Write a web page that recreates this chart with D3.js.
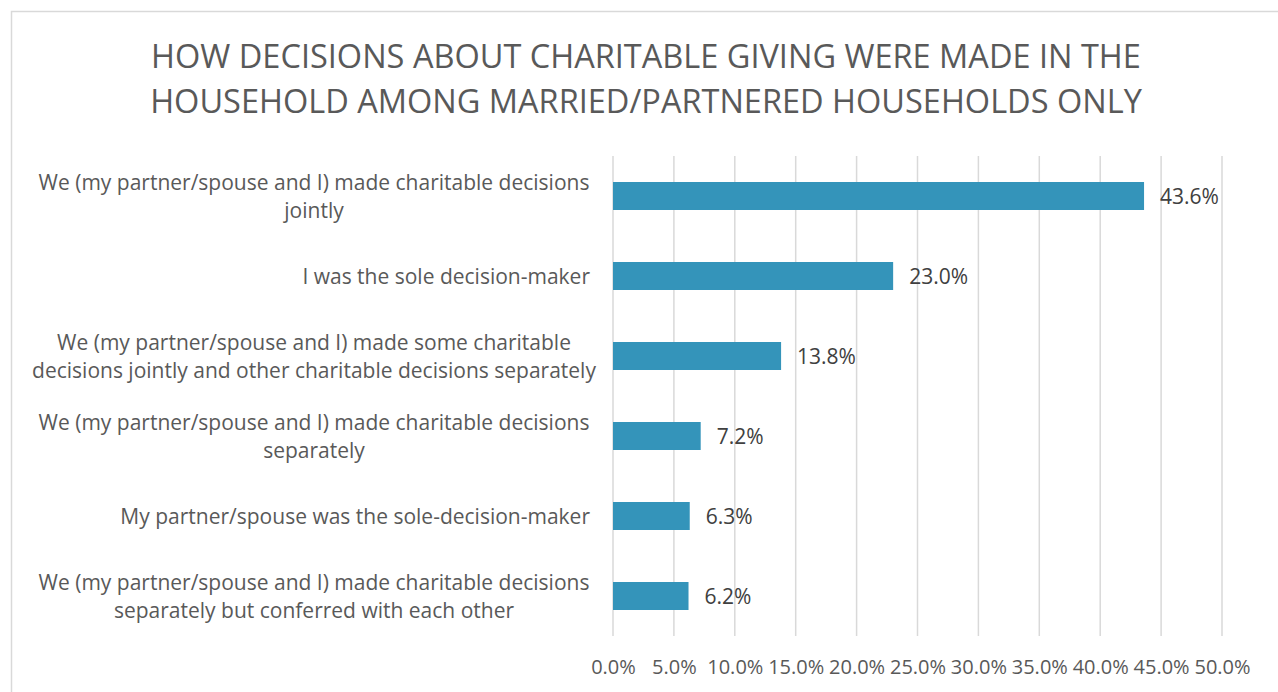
<!DOCTYPE html>
<html>
<head>
<meta charset="utf-8">
<script src="https://cdn.jsdelivr.net/npm/d3@7"></script>
<style>
  body { margin: 0; background: #fff; }
  svg text { font-family: "Open Sans", sans-serif; }
</style>
</head>
<body>
<svg width="1278" height="692"></svg>
<script>
const titleLines = ["HOW DECISIONS ABOUT CHARITABLE GIVING WERE MADE IN THE",
                    "HOUSEHOLD AMONG MARRIED/PARTNERED HOUSEHOLDS ONLY"];
const categories = [
  "We (my partner/spouse and I) made charitable decisions\njointly",
  "I was the sole decision-maker",
  "We (my partner/spouse and I) made some charitable\ndecisions jointly and other charitable decisions separately",
  "We (my partner/spouse and I) made charitable decisions\nseparately",
  "My partner/spouse was the sole-decision-maker",
  "We (my partner/spouse and I) made charitable decisions\nseparately but conferred with each other"
];
const values = [43.6, 23.0, 13.8, 7.2, 6.3, 6.2];
const ticks = [0, 5, 10, 15, 20, 25, 30, 35, 40, 45, 50];

const svg = d3.select("svg");
const plotLeft = 613, plotRight = 1222, plotTop = 156, plotBottom = 636;

// chart frame (only top/left visible in reference)
svg.append("path")
   .attr("d", "M11.5,692 L11.5,11.5 L1278,11.5")
   .attr("fill", "none")
   .attr("stroke", "#d9d9d9")
   .attr("stroke-width", 1.5);

svg.append("g").selectAll("text")
   .data(titleLines)
   .enter().append("text")
   .attr("x", 646)
   .attr("y", (d, i) => 68 + i * 45)
   .attr("text-anchor", "middle")
   .attr("fill", "#595959")
   .style("font-size", "32.5px")
   .text(d => d);

const x = d3.scaleLinear().domain([0, 50]).range([plotLeft, plotRight]);
const y = d3.scaleBand().domain(categories).range([plotTop, plotBottom]).paddingInner(0.65).paddingOuter(0.325);

// gridlines
svg.append("g").selectAll("line")
   .data(ticks)
   .enter().append("line")
   .attr("x1", d => x(d)).attr("x2", d => x(d))
   .attr("y1", plotTop).attr("y2", plotBottom)
   .attr("stroke", "#d9d9d9")
   .attr("stroke-width", 1.5);

// x axis labels
const xAxis = svg.append("g")
   .attr("transform", "translate(0," + plotBottom + ")")
   .call(d3.axisBottom(x).tickValues(ticks).tickFormat(d => d.toFixed(1) + "%").tickSize(0).tickPadding(24));
xAxis.select(".domain").remove();
xAxis.selectAll("text")
   .attr("fill", "#595959")
   .style("font-size", "20px")
   .style("font-family", "'Open Sans', sans-serif");

// bars
svg.append("g").selectAll("rect")
   .data(values)
   .enter().append("rect")
   .attr("x", x(0))
   .attr("y", (d, i) => y(categories[i]))
   .attr("width", d => x(d) - x(0))
   .attr("height", y.bandwidth())
   .attr("fill", "#3494BA");

// value labels
svg.append("g").selectAll("text")
   .data(values)
   .enter().append("text")
   .attr("x", d => x(d) + 16)
   .attr("y", (d, i) => y(categories[i]) + y.bandwidth() / 2)
   .attr("dy", "0.36em")
   .attr("fill", "#404040")
   .style("font-size", "21px")
   .text(d => d.toFixed(1) + "%");

// category labels
const cat = svg.append("g").selectAll("text")
   .data(categories)
   .enter().append("text")
   .attr("text-anchor", "middle")
   .attr("fill", "#595959")
   .style("font-size", "21px");
cat.each(function(d) {
  const lines = d.split("\n");
  const cy = y(d) + y.bandwidth() / 2;
  const t = d3.select(this);
  lines.forEach((ln, i) => {
    t.append("tspan")
     .attr("x", 314)
     .attr("y", cy + (i - (lines.length - 1) / 2) * 28)
     .attr("dy", "0.36em")
     .text(ln);
  });
});
// right-align single lines, centre wrapped ones like Excel
cat.filter(d => d.indexOf("\n") < 0)
   .attr("text-anchor", "end")
   .selectAll("tspan").attr("x", 590);
</script>
</body>
</html>
